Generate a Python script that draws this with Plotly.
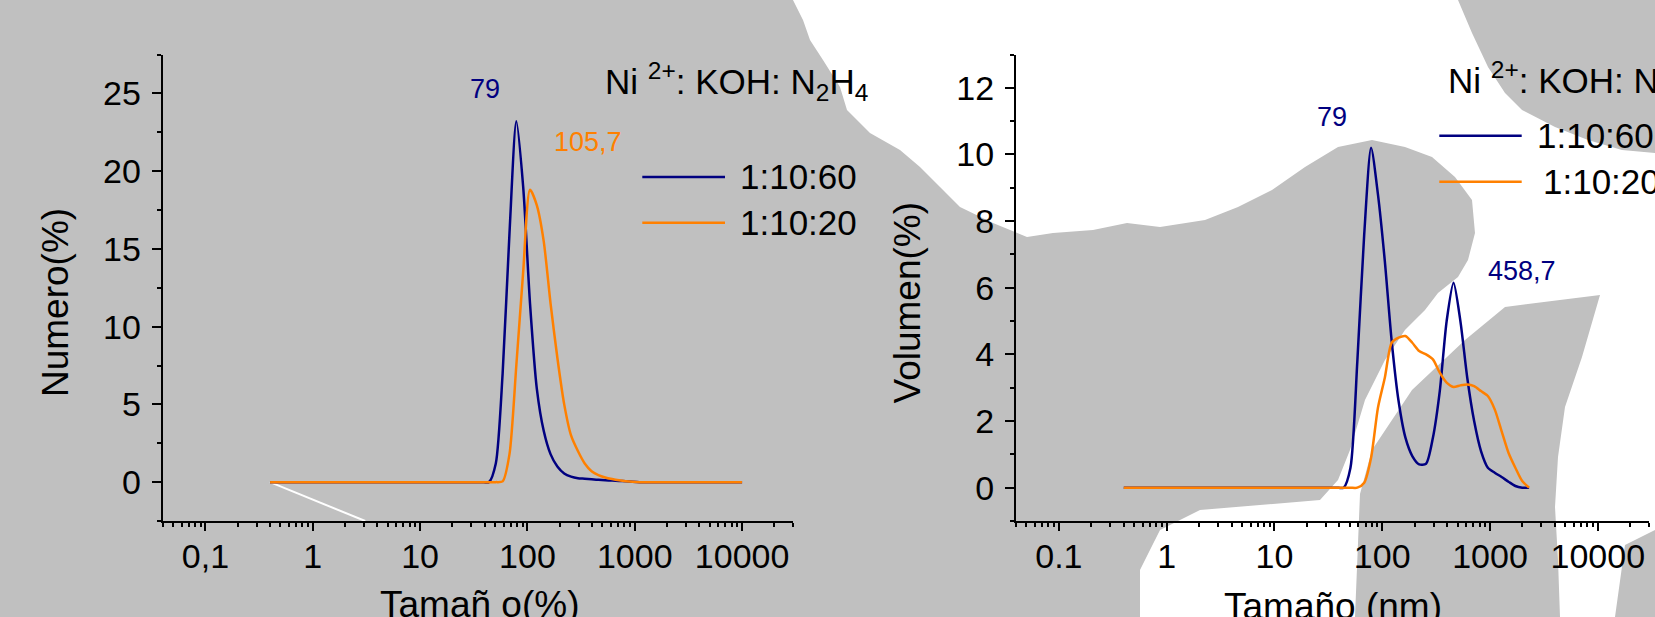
import math
import plotly.graph_objects as go

W, H = 1655, 617

# Hydrodynamic size classes (nm)
size_bins = [
    0.4, 0.4632, 0.5365, 0.6213, 0.7195, 0.8332, 0.9649, 1.117, 1.294, 1.499,
    1.736, 2.01, 2.328, 2.696, 3.122, 3.615, 4.187, 4.849, 5.615, 6.503,
    7.531, 8.721, 10.1, 11.7, 13.54, 15.69, 18.17, 21.04, 24.36, 28.21,
    32.67, 37.84, 43.82, 50.75, 58.77, 68.06, 78.82, 91.28, 105.7, 122.4,
    141.8, 164.2, 190.1, 220.2, 255.0, 295.3, 342.0, 396.1, 458.7, 531.2,
    615.1, 712.4, 825.0, 955.4, 1106, 1281, 1484, 1718, 1990, 2305,
    2669, 3091, 3580, 4145, 4801, 5560, 6439, 7456, 8635, 10000,
]

# Number distribution (%), 70 classes
numero_1_10_60 = [0] * 33 + [
    1.2, 7.0, 16.0, 23.2, 19.0, 11.5, 6.0, 3.3, 1.8, 1.0,
    0.55, 0.35, 0.25, 0.22, 0.18, 0.15, 0.12, 0.10, 0.08, 0.05,
    0.02,
] + [0] * 16
numero_1_10_20 = [0] * 34 + [
    0.05, 1.8, 7.5, 13.5, 18.8, 17.8, 15.5, 11.5, 8.0, 5.0,
    3.0, 2.0, 1.2, 0.7, 0.45, 0.3, 0.2, 0.12, 0.06, 0.02,
] + [0] * 16

# Volume distribution (%), first 60 classes
volumen_1_10_60 = [0] * 33 + [
    0.6, 3.8, 7.6, 10.2, 8.8, 6.8, 4.4, 2.6, 1.5, 0.95,
    0.7, 0.72, 1.5, 2.9, 5.0, 6.15, 5.0, 3.3, 2.0, 1.1,
    0.6, 0.45, 0.32, 0.18, 0.05, 0.0, 0.0,
]
volumen_1_10_20 = [0] * 34 + [
    0.0, 0.15, 0.9, 2.4, 3.3, 4.35, 4.5, 4.55, 4.35, 4.1,
    4.0, 3.85, 3.45, 3.15, 3.02, 3.07, 3.1, 3.05, 2.9, 2.75,
    2.35, 1.7, 1.05, 0.6, 0.2, 0.0,
]

# Stray white stroke under the left curves
stroke_x = [0.4, 3.08]
stroke_y = [0, -2.5]

series_names = ["1:10:60", "1:10:20"]
peak_numero = ["79", "105,7"]
peak_volumen = ["79", "458,7"]

major_ticks = [0.1, 1, 10, 100, 1000, 10000]
ticktext_left = ["0,1", "1", "10", "100", "1000", "10000"]
ticktext_right = ["0.1", "1", "10", "100", "1000", "10000"]
minor_ticks = [m * 10 ** e for e in range(-2, 5) for m in range(2, 10)
               if 0.04 <= m * 10 ** e <= 30000]

NAVY = "#000080"
ORANGE = "#FF8000"
GRAY = "#C0C0C0"
FONT = "Liberation Sans, Arial, sans-serif"


def px(x):
    return x / W


def py(y):
    return 1 - y / H


# Light region of the backdrop, outlined in pixel coordinates
backdrop_outline = [
    (793, 0), (1458, 0), (1472, 33), (1488, 67), (1505, 93), (1522, 110),
    (1555, 127), (1588, 140), (1622, 150), (1655, 153), (1655, 530),
    (1625, 545), (1615, 617), (1560, 617), (1558, 560), (1555, 507),
    (1558, 457), (1565, 407), (1582, 357), (1600, 295), (1505, 307),
    (1465, 340), (1412, 390), (1372, 450), (1360, 494), (1355, 617),
    (1140, 617), (1140, 570), (1160, 530), (1200, 510), (1260, 505),
    (1320, 500), (1338, 480), (1350, 450), (1365, 400), (1385, 360),
    (1405, 330), (1425, 310), (1438, 293), (1458, 277), (1468, 260),
    (1475, 233), (1472, 200), (1455, 177), (1432, 157), (1405, 147),
    (1372, 140), (1338, 147), (1305, 167), (1272, 190), (1238, 207),
    (1205, 220), (1160, 227), (1127, 223), (1093, 230), (1053, 233),
    (1027, 237), (993, 223), (960, 207), (940, 187), (920, 167),
    (900, 150), (870, 133), (847, 110), (840, 87), (823, 60), (810, 40),
    (803, 20),
]
path = "M " + " L ".join(f"{px(x):.5f},{py(y):.5f}" for x, y in backdrop_outline) + " Z"

fig = go.Figure()

fig.add_trace(go.Scatter(x=stroke_x, y=stroke_y, mode="lines",
                         line=dict(color="white", width=2),
                         xaxis="x", yaxis="y", hoverinfo="skip"))

line_style = dict(width=2.5, shape="spline", smoothing=0.7)
fig.add_trace(go.Scatter(x=size_bins, y=numero_1_10_60, mode="lines", name=series_names[0],
                         line=dict(color=NAVY, **line_style), xaxis="x", yaxis="y"))
fig.add_trace(go.Scatter(x=size_bins, y=numero_1_10_20, mode="lines", name=series_names[1],
                         line=dict(color=ORANGE, **line_style), xaxis="x", yaxis="y"))
fig.add_trace(go.Scatter(x=size_bins[:len(volumen_1_10_60)], y=volumen_1_10_60, mode="lines",
                         name=series_names[0], line=dict(color=NAVY, **line_style),
                         xaxis="x2", yaxis="y2"))
fig.add_trace(go.Scatter(x=size_bins[:len(volumen_1_10_20)], y=volumen_1_10_20, mode="lines",
                         name=series_names[1], line=dict(color=ORANGE, **line_style),
                         xaxis="x2", yaxis="y2"))

xr = [math.log10(0.04), math.log10(30000)]
common_axis = dict(showline=True, linecolor="black", linewidth=2, ticks="outside",
                   tickcolor="black", tickwidth=2, showgrid=False, zeroline=False,
                   tickfont=dict(family=FONT, size=34, color="black"))


def xaxis(domain, anchor, ticktext):
    return dict(type="log", range=xr, domain=domain, anchor=anchor,
                tickvals=major_ticks, ticktext=ticktext, ticklen=8,
                ticklabelstandoff=-4,
                minor=dict(tickvals=minor_ticks, ticks="outside", ticklen=4,
                           tickwidth=1.5, tickcolor="black", showgrid=False),
                **common_axis)


def yaxis(domain, anchor, rng, step, minor_step):
    return dict(range=rng, domain=domain, anchor=anchor, tick0=0, dtick=step,
                ticklen=9, ticklabelstandoff=4,
                minor=dict(dtick=minor_step, tick0=0, ticks="outside", ticklen=4,
                           tickwidth=1.5, tickcolor="black", showgrid=False),
                **common_axis)


ydom = [py(521), py(54.5)]
fig.update_layout(
    width=W, height=H, margin=dict(l=0, r=0, t=0, b=0),
    paper_bgcolor=GRAY, plot_bgcolor="rgba(0,0,0,0)", showlegend=False,
    font=dict(family=FONT, color="black"),
    xaxis=xaxis([px(162.7), px(793.3)], "y", ticktext_left),
    yaxis=yaxis(ydom, "x", [-2.5, 27.5], 5, 2.5),
    xaxis2=xaxis([px(1016), px(1649.2)], "y2", ticktext_right),
    yaxis2=yaxis(ydom, "x2", [-1, 13], 2, 1),
)

shapes = [dict(type="path", path=path, xref="paper", yref="paper",
               fillcolor="white", line=dict(width=0), layer="below")]

# Legend keys drawn by hand for each panel: line x0, x1, first row y, text x, second row y, indent
legend_rows = [
    (642.3, 725, 177, 738, 222.7, 0),
    (1439.3, 1521.7, 135.7, 1535, 181.7, 6),
]
annotations = []
for x0, x1, y1, tx, y2, indent in legend_rows:
    for yy, col, name, dx in [(y1, NAVY, series_names[0], 0), (y2, ORANGE, series_names[1], indent)]:
        shapes.append(dict(type="line", xref="paper", yref="paper",
                           x0=px(x0), x1=px(x1), y0=py(yy), y1=py(yy),
                           line=dict(color=col, width=2.5)))
        annotations.append(dict(text=name, x=px(tx + dx), y=py(yy), xref="paper", yref="paper",
                                xanchor="left", yanchor="middle", showarrow=False,
                                font=dict(size=35, color="black")))

heading = "Ni <sup>2+</sup>: KOH: N<sub>2</sub>H<sub>4</sub>"
for hx, hy in [(603, 82), (1446, 80)]:
    annotations.append(dict(text=heading, x=px(hx), y=py(hy), xref="paper", yref="paper",
                            xanchor="left", yanchor="middle", showarrow=False,
                            font=dict(size=35, color="black")))

peak_labels = [
    (peak_numero[0], 485, 88.6, NAVY), (peak_numero[1], 587.8, 142.2, ORANGE),
    (peak_volumen[0], 1331.7, 116.7, NAVY), (peak_volumen[1], 1522, 270.5, NAVY),
]
for txt, x, y, col in peak_labels:
    annotations.append(dict(text=txt, x=px(x), y=py(y), xref="paper", yref="paper",
                            xanchor="center", yanchor="middle", showarrow=False,
                            font=dict(size=27, color=col)))

axis_titles = [
    ("Numero(%)", 55, 303, -90), ("Volumen(%)", 907, 302.5, -90),
    ("Tamañ o(%)", 479, 604, 0), ("Tamaño (nm)", 1333, 606, 0),
]
for txt, x, y, ang in axis_titles:
    annotations.append(dict(text=txt, x=px(x), y=py(y), xref="paper", yref="paper",
                            xanchor="center", yanchor="middle", showarrow=False,
                            textangle=ang, font=dict(size=37, color="black")))

fig.update_layout(shapes=shapes, annotations=annotations)
fig.write_html("out.html")
